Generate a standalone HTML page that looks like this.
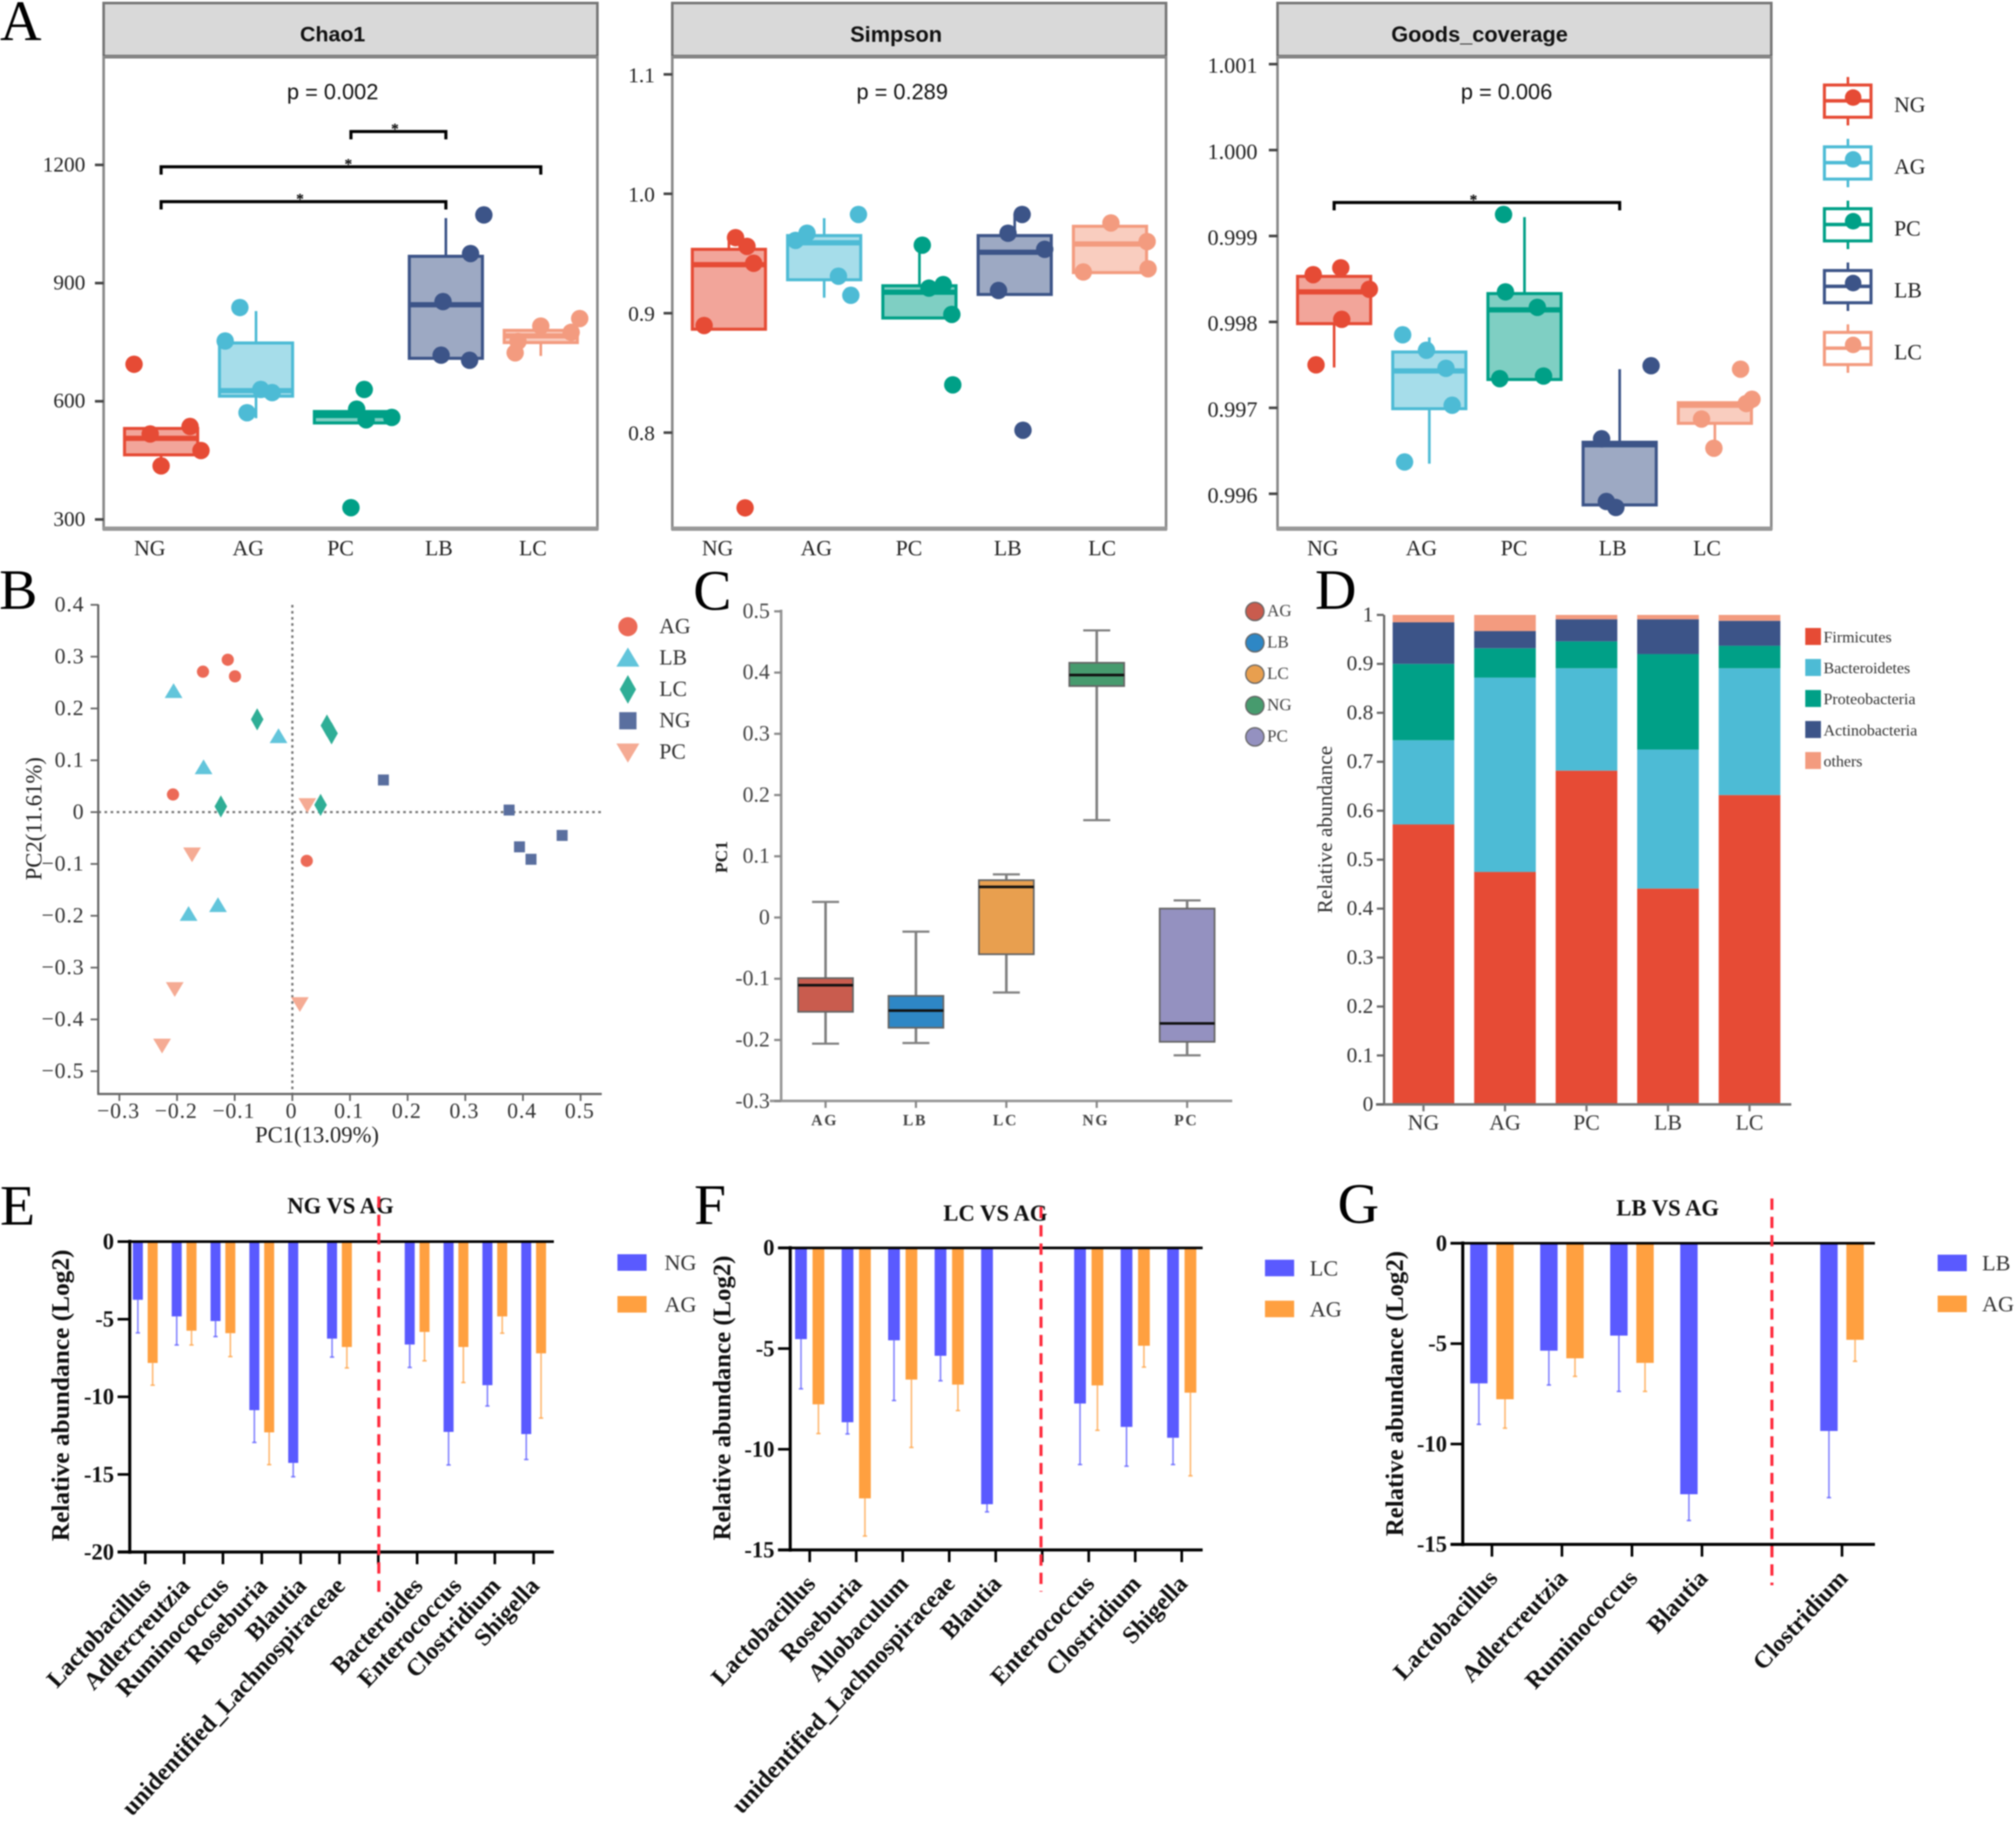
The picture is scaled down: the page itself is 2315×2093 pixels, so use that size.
<!DOCTYPE html>
<html lang="en">
<head>
<meta charset="utf-8">
<title>Microbiome composite figure</title>
<style>
html,body{margin:0;padding:0;background:#fff;}
#figure{display:block;width:2315px;height:2093px;filter:blur(0.7px);}
text{font-family:"Liberation Serif","DejaVu Serif",serif;}
</style>
</head>
<body>
<svg id="figure" xmlns="http://www.w3.org/2000/svg" width="2315" height="2093" viewBox="0 0 2315 2093"></svg>
<script>
/* ---------- shared categories ---------- */
const groupsA = ['NG','AG','PC','LB','LC'];
const coloursA = ['#E64B35','#4DBBD5','#00A087','#3C5488','#F39B7F'];

/* ---------- panel A : Chao1 ---------- */
const chaoTicks = ['300','600','900','1200'];
const chaoQ3 = [531,748,574,968,780];
const chaoMedian = [506,627,564,845,766];
const chaoQ1 = [464,613,545,709,749];
const chaoHigh = [531,829,574,1065,780];
const chaoLow = [436,557,545,709,715];
const chaoValues = [[694,517,536,475,436],[838,753,630,622,571],[630,580,553,559,330],[1073,975,853,717,704],[810,791,775,723,752]];
const chaoJitter = [[-.285,-.115,.305,.42,0],[-.17,-.325,.05,.17,-.095],[.14,.06,.16,.43,0],[.4,.26,-.03,-.05,.25],[.41,0,.32,-.27,-.24]];

/* ---------- panel A : Simpson ---------- */
const simpsonTicks = ['0.8','0.9','1.0','1.1'];
const simpsonQ3 = [.9535,.965,.923,.965,.9728];
const simpsonMedian = [.9406,.959,.9176,.951,.958];
const simpsonQ1 = [.8866,.928,.896,.9157,.934];
const simpsonHigh = [.9627,.9796,.957,.983,.9728];
const simpsonLow = [.8866,.913,.896,.9157,.9335];
const simpsonValues = [[.9633,.956,.9418,.8897,.737],[.967,.961,.9827,.931,.915],[.957,.921,.924,.899,.84],[.9827,.9535,.802,.967,.919],[.9756,.96,.9372,.9345]];
const simpsonJitter = [[.07,.19,.26,-.26,.17],[-.18,-.3,.36,.15,.28],[.03,.1,.25,.34,.35],[.078,.315,.087,-.07,-.17],[.01,.39,.4,-.28]];

/* ---------- panel A : Goods coverage ---------- */
const goodsTicks = ['0.996','0.997','0.998','0.999','1.000','1.001'];
const goodsQ3 = [.99853,.99765,.99833,.9966,.99706];
const goodsMedian = [.99835,.99743,.99814,.99657,.99703];
const goodsQ1 = [.99798,.99699,.99733,.99587,.99682];
const goodsHigh = [.99853,.99782,.99922,.99745,.99706];
const goodsLow = [.99747,.99635,.99733,.99587,.99656];
const goodsValues = [[.99855,.99863,.99838,.99803,.9975],[.99785,.99767,.99746,.99703,.99637],[.99925,.99835,.99817,.99734,.99737],[.99749,.99664,.99591,.99584],[.99745,.9971,.99705,.99687,.99653]];
const goodsJitter = [[-.22,.07,.37,.08,-.19],[-.28,-.03,.175,.24,-.26],[-.22,-.2,.135,-.26,.2],[.33,-.19,-.14,-.04],[.27,.39,.33,-.14,-.01]];

/* ---------- panel B : PCoA ---------- */
const pcoaXTicks = ['-0.3','-0.2','-0.1','0','0.1','0.2','0.3','0.4','0.5'];
const pcoaYTicks = ['-0.5','-0.4','-0.3','-0.2','-0.1','0','0.1','0.2','0.3','0.4'];
const pcoaGroups = ['AG','LB','LC','NG','PC'];
const pcoaPC1 = [[-.112,-.155,-.0995,-.207,.025],[-.206,-.024,-.154,-.129,-.18],[-.061,.06,.068,.049,-.124],[.158,.376,.468,.394,.414],[.026,-.174,-.204,.013,-.226]];
const pcoaPC2 = [[.294,.271,.262,.034,-.094],[.233,.146,.086,-.18,-.197],[.179,.167,.152,.014,.011],[.062,.004,-.045,-.067,-.091],[.014,-.081,-.341,-.37,-.45]];

/* ---------- panel C : PC1 boxplot ---------- */
const pc1Ticks = ['-0.3','-0.2','-0.1','0','0.1','0.2','0.3','0.4','0.5'];
const pc1Groups = ['AG','LB','LC','NG','PC'];
const pc1Q3 = [-.099,-.128,.061,.416,.0146];
const pc1Median = [-.1105,-.152,.05,.396,-.173];
const pc1Q1 = [-.154,-.18,-.06,.378,-.203];
const pc1High = [.0254,-.023,.0705,.469,.028];
const pc1Low = [-.206,-.205,-.1225,.159,-.225];

/* ---------- panel D : stacked bars ---------- */
const phylaNames = ['Firmicutes','Bacteroidetes','Proteobacteria','Actinobacteria','others'];
const abundanceTicks = ['0','0.1','0.2','0.3','0.4','0.5','0.6','0.7','0.8','0.9','1'];
const firmicutes = [.572,.475,.682,.441,.632];
const bacteroidetes = [.172,.397,.209,.284,.259];
const proteobacteria = [.156,.060,.055,.195,.046];
const actinobacteria = [.085,.035,.045,.071,.051];
const others = [.015,.033,.009,.009,.012];

/* ---------- panel E ---------- */
const eTaxa = ['Lactobacillus','Adlercreutzia','Ruminococcus','Roseburia','Blautia','unidentified_Lachnospiraceae','','Bacteroides','Enterococcus','Clostridium','Shigella'];
const eTicks = ['0','-5','-10','-15','-20'];
const eNG = [-3.75,-4.82,-5.12,-10.86,-14.26,-6.25,null,-6.63,-12.26,-9.25,-12.4];
const eNGerr = [-5.88,-6.66,-6.12,-12.94,-15.15,-7.44,null,-8.11,-14.39,-10.59,-14.04];
const eAG = [-7.82,-5.74,-5.9,-12.29,null,-6.79,null,-5.82,-6.79,-4.82,-7.2];
const eAGerr = [-9.25,-6.66,-7.41,-14.37,null,-8.14,null,-7.68,-9.08,-5.9,-11.37];

/* ---------- panel F ---------- */
const fTaxa = ['Lactobacillus','Roseburia','Allobaculum','unidentified_Lachnospiraceae','Blautia','','Enterococcus','Clostridium','Shigella'];
const fTicks = ['0','-5','-10','-15'];
const fLC = [-4.53,-8.66,-4.59,-5.36,-12.73,null,-7.73,-8.89,-9.43];
const fLCerr = [-7.0,-9.24,-7.58,-6.6,-13.11,null,-10.76,-10.84,-10.76];
const fAG = [-7.77,-12.44,-6.54,-6.79,null,null,-6.83,-4.86,-7.19];
const fAGerr = [-9.22,-14.31,-9.91,-8.08,null,null,-9.06,-5.92,-11.32];

/* ---------- panel G ---------- */
const gTaxa = ['Lactobacillus','Adlercreutzia','Ruminococcus','Blautia','','Clostridium'];
const gTicks = ['0','-5','-10','-15'];
const gLB = [-6.98,-5.35,-4.6,-12.5,null,-9.35];
const gLBerr = [-9.02,-7.06,-7.38,-13.81,null,-12.67];
const gAG = [-7.77,-5.73,-5.96,null,null,-4.81];
const gAGerr = [-9.21,-6.63,-7.38,null,null,-5.88];

/* ---------- drawing helpers ---------- */
const svg = document.getElementById('figure');
const NS = 'http://www.w3.org/2000/svg';
function add(tag, attrs, name, parent){
  const el = document.createElementNS(NS, tag);
  for(const k in attrs){ el.setAttribute(k, attrs[k]); }
  
  
  (parent || svg).appendChild(el);
  return el;
}
function label(str, x, y, size, anchor, name, extra){
  const attrs = Object.assign({x:x, y:y, 'font-size':size, 'text-anchor':anchor, 'dominant-baseline':'central', fill:'#222'}, extra || {});
  const el = add('text', attrs, name);
  el.textContent = str;
  return el;
}
function line(x1,y1,x2,y2,stroke,w,name,extra){
  return add('line', Object.assign({x1:x1,y1:y1,x2:x2,y2:y2,stroke:stroke,'stroke-width':w}, extra||{}), name);
}
function rect(x,y,w,h,attrs,name){
  return add('rect', Object.assign({x:x,y:y,width:w,height:h}, attrs), name);
}
function panelLetter(ch,x,y){
  const el = add('text', {x:x,y:y,'font-size':66,fill:'#000'}, 'panel-label-'+ch.toLowerCase());
  el.textContent = ch;
}
['A','B','C','D','E','F','G'].forEach(function(ch,i){
  panelLetter(ch,[0,-1,796,1510,0,797,1536][i],[46,699,700,699,1406,1405,1404][i]);
});

/* ---------- panel A facets ---------- */
function facet(cfg){
  const slug = cfg.title.toLowerCase();
  const yScale = function(v){ return cfg.y0 + (v - cfg.v0) * cfg.k; };
  const xScale = function(i){ return cfg.c0 + i * cfg.sp; };
  rect(cfg.left,3.5,cfg.right-cfg.left,61.5,{fill:'#d9d9d9',stroke:'#777','stroke-width':3},slug+'-strip');
  line(cfg.left-1,65,cfg.right+1,65,'#444',4,slug+'-strip-rule');
  label(cfg.title,cfg.tx,40,cfg.titleSize,'middle',slug+'-strip-title',{'font-weight':'bold',fill:'#111'}).style.fontFamily='"Liberation Sans",sans-serif';
  rect(cfg.left,65,cfg.right-cfg.left,542,{fill:'none',stroke:'#8a8a8a','stroke-width':3},slug+'-panel-border');
  line(cfg.left-1,607,cfg.right+1,607,'#999',5,slug+'-x-axis');
  cfg.ticks.forEach(function(t){
    const y = yScale(parseFloat(t));
    line(cfg.left-10,y,cfg.left,y,'#444',3,slug+'-y-tick');
    label(t,cfg.left-cfg.labelGap,y+cfg.labelDy,cfg.tickSize,'end',slug+'-y-tick-label');
  });
  groupsA.forEach(function(g,i){
    const cx = xScale(i), col = coloursA[i], bw = 84;
    label(g,cx+[-13,-9,-12,-8,-9][i],630,25,'middle',slug+'-x-tick-label');
    const top = yScale(cfg.q3[i]), bot = yScale(cfg.q1[i]);
    line(cx,yScale(cfg.high[i]),cx,top,col,3,slug+'-whisker-high-'+g.toLowerCase());
    line(cx,bot,cx,yScale(cfg.low[i]),col,3,slug+'-whisker-low-'+g.toLowerCase());
    rect(cx-bw/2,top,bw,bot-top,{fill:col,'fill-opacity':.5,stroke:col,'stroke-width':3.5},slug+'-box-'+g.toLowerCase());
    line(cx-bw/2,yScale(cfg.med[i]),cx+bw/2,yScale(cfg.med[i]),col,6,slug+'-median-'+g.toLowerCase());
    cfg.vals[i].forEach(function(v,j){
      add('circle',{cx:cx+cfg.jit[i][j]*cfg.sp,cy:yScale(v),r:10,fill:col},slug+'-point-'+g.toLowerCase());
    });
  });
  label(cfg.p,cfg.px,106,25,'middle',slug+'-p-value',{fill:'#111'}).style.fontFamily='"Liberation Sans",sans-serif';
  cfg.brackets.forEach(function(b){
    const x1 = xScale(b[0]), x2 = xScale(b[1]), y = b[2];
    add('path',{d:'M'+x1+' '+(y+9)+'V'+y+'H'+x2+'V'+(y+9),fill:'none',stroke:'#000','stroke-width':3.5},slug+'-significance-bracket');
    label('*',(x1+x2)/2+b[3],y-3,18,'middle',slug+'-significance-star',{fill:'#000','font-weight':'bold'});
  });
}
facet({title:'Chao1',tx:382,titleSize:24.5,tickSize:24.5,labelGap:21,labelDy:0,left:119,right:686,y0:596.4,v0:300,k:-.4523,c0:185,sp:109,ticks:chaoTicks,p:'p = 0.002',px:382,
  q3:chaoQ3,med:chaoMedian,q1:chaoQ1,high:chaoHigh,low:chaoLow,vals:chaoValues,jit:chaoJitter,
  brackets:[[2,3,151,-4],[0,4,191.5,-3],[0,3,231.5,-4]]});
facet({title:'Simpson',tx:1029,titleSize:25,tickSize:24.5,labelGap:20,labelDy:1.5,left:772,right:1339,y0:496.7,v0:.8,k:-1371,c0:837,sp:109.4,ticks:simpsonTicks,p:'p = 0.289',px:1036,
  q3:simpsonQ3,med:simpsonMedian,q1:simpsonQ1,high:simpsonHigh,low:simpsonLow,vals:simpsonValues,jit:simpsonJitter,brackets:[]});
facet({title:'Goods_coverage',tx:1699,titleSize:25,tickSize:25.5,labelGap:23,labelDy:1.5,left:1467,right:2034,y0:566.9,v0:.996,k:-98650,c0:1532,sp:109.3,ticks:goodsTicks,p:'p = 0.006',px:1730,
  q3:goodsQ3,med:goodsMedian,q1:goodsQ1,high:goodsHigh,low:goodsLow,vals:goodsValues,jit:goodsJitter,
  brackets:[[0,3,232.5,-4]]});
groupsA.forEach(function(g,i){
  const dy = i*71, col = coloursA[i], nm = g.toLowerCase();
  line(2122,88.4+dy,2122,144+dy,col,3,'legend-whisker-'+nm);
  rect(2095,97.6+dy,53.5,37,{fill:'#fff',stroke:col,'stroke-width':3.5},'legend-box-'+nm);
  line(2095,115.7+dy,2148.5,115.7+dy,col,4,'legend-median-'+nm);
  add('circle',{cx:2128,cy:112+dy,r:9.5,fill:col},'legend-point-'+nm);
  label(g,2175,121+dy,25,'start','legend-label-'+nm);
});

/* ---------- panel B ---------- */
(function(){
  const x = function(v){ return 335.7 + v*662; };
  const y = function(v){ return 932.4 - v*595; };
  const cols = ['#EC6A57','#62C5DB','#2FAE96','#5A6F9F','#F5AB94'];
  function marker(kind,cx,cy,r,fill,name){
    if(kind===0){ add('circle',{cx:cx,cy:cy,r:r,fill:fill},name); return; }
    let pts;
    if(kind===1){ pts=[[cx,cy-r*1.1],[cx+r*1.2,cy+r*.9],[cx-r*1.2,cy+r*.9]]; }
    if(kind===2){ pts=[[cx,cy-r*1.5],[cx+r*.85,cy],[cx,cy+r*1.5],[cx-r*.85,cy]]; }
    if(kind===3){ pts=[[cx-r*.9,cy-r*.9],[cx+r*.9,cy-r*.9],[cx+r*.9,cy+r*.9],[cx-r*.9,cy+r*.9]]; }
    if(kind===4){ pts=[[cx-r*1.2,cy-r*.9],[cx+r*1.2,cy-r*.9],[cx,cy+r*1.1]]; }
    add('polygon',{points:pts.map(function(p){return p.join(',');}).join(' '),fill:fill},name);
  }
  line(335.7,694.5,335.7,1256,'#777',2.5,'pcoa-vertical-zero-line',{'stroke-dasharray':'3 4'});
  line(113,932.4,690,932.4,'#777',2.5,'pcoa-horizontal-zero-line',{'stroke-dasharray':'3 4'});
  line(112.8,694,112.8,1257,'#666',2.5,'pcoa-y-axis');
  line(112,1256,691,1256,'#666',2.5,'pcoa-x-axis');
  pcoaYTicks.forEach(function(t){
    const v = parseFloat(t);
    line(104,y(v),113,y(v),'#666',2,'pcoa-y-tick');
    label(t.replace('-','\u2212'),97,y(v),25,'end','pcoa-y-tick-label',{fill:'#333','letter-spacing':1});
  });
  pcoaXTicks.forEach(function(t){
    const v = parseFloat(t);
    line(x(v),1256,x(v),1264,'#666',2,'pcoa-x-tick');
    label(t.replace('-','\u2212'),x(v)-1,1276,25,'middle','pcoa-x-tick-label',{fill:'#333','letter-spacing':1});
  });
  label('PC1(13.09%)',364,1303,26,'middle','pcoa-x-axis-title',{fill:'#222'});
  const yt = label('PC2(11.61%)',39,940,26,'middle','pcoa-y-axis-title',{fill:'#222'});
  yt.setAttribute('transform','rotate(-90 39 940)');
  pcoaGroups.forEach(function(g,i){
    pcoaPC1[i].forEach(function(v,j){
      marker(i,x(v),y(pcoaPC2[i][j]),i===3?7:(i===0?7:8.5),cols[i],'pcoa-point-'+g.toLowerCase());
    });
    const ly = 719.5 + i*36;
    marker(i,721,ly,11,cols[i],'pcoa-legend-marker-'+g.toLowerCase());
    label(g,757,ly,25,'start','pcoa-legend-label-'+g.toLowerCase(),{fill:'#333'});
  });
})();

/* ---------- panel C ---------- */
(function(){
  const y = function(v){ return 1053.4 - v*703; };
  const x = function(i){ return 948 + i*103.8; };
  const cols = ['#C95C4E','#2E87C5','#E89F4F','#479B6E','#9491C0'];
  line(897,700,897,1265,'#999',3,'pc1-y-axis');
  line(884,1264,1415,1264,'#999',3,'pc1-x-axis');
  pc1Ticks.forEach(function(t){
    const v = parseFloat(t);
    line(889,y(v),897,y(v),'#888',2.5,'pc1-y-tick');
    label(t,884,y(v),25,'end','pc1-y-tick-label',{fill:'#444'});
  });
  pc1Groups.forEach(function(g,i){
    const cx = x(i), bw = 63, nm = g.toLowerCase();
    line(cx,1264,cx,1272,'#888',2.5,'pc1-x-tick');
    label(g,cx-1,1286,18,'middle','pc1-x-tick-label',{fill:'#444','font-weight':'bold','letter-spacing':2});
    line(cx,y(pc1High[i]),cx,y(pc1Low[i]),'#808080',3,'pc1-whisker-'+nm);
    line(cx-15.5,y(pc1High[i]),cx+15.5,y(pc1High[i]),'#808080',2.5,'pc1-cap-high-'+nm);
    line(cx-15.5,y(pc1Low[i]),cx+15.5,y(pc1Low[i]),'#808080',2.5,'pc1-cap-low-'+nm);
    rect(cx-bw/2,y(pc1Q3[i]),bw,y(pc1Q1[i])-y(pc1Q3[i]),{fill:cols[i],stroke:'#666','stroke-width':2},'pc1-box-'+nm);
    line(cx-bw/2,y(pc1Median[i]),cx+bw/2,y(pc1Median[i]),'#111',3,'pc1-median-'+nm);
    const ly = 702 + i*36;
    add('circle',{cx:1441,cy:ly,r:10.5,fill:cols[i],stroke:'#666','stroke-width':1.5},'pc1-legend-marker-'+nm);
    label(g,1455,ly,19.5,'start','pc1-legend-label-'+nm,{fill:'#444'});
  });
  const t = label('PC1',829,984,20,'middle','pc1-y-axis-title',{fill:'#222','font-weight':'bold'});
  t.setAttribute('transform','rotate(-90 829 984)');
})();

/* ---------- panel D ---------- */
(function(){
  const y = function(v){ return 1268 - v*562; };
  const x = function(i){ return 1634.6 + i*93.6; };
  const layers = [firmicutes,bacteroidetes,proteobacteria,actinobacteria,others];
  const cols = ['#E64B35','#4DBBD5','#00A087','#3C5488','#F39B7F'];
  groupsA.forEach(function(g,i){
    let base = 0;
    layers.forEach(function(arr,k){
      const top = base + arr[i];
      rect(x(i)-35.4,y(top),70.8,y(base)-y(top),{fill:cols[k]},'abundance-bar-'+g.toLowerCase()+'-'+phylaNames[k].toLowerCase());
      base = top;
    });
    line(x(i),1268,x(i),1276,'#777',2.5,'abundance-x-tick');
    label(g,x(i),1289.5,25,'middle','abundance-x-tick-label',{fill:'#333'});
  });
  line(1589.4,706,1589.4,1269,'#666',2.5,'abundance-y-axis');
  line(1580,1268,2057,1268,'#777',3,'abundance-x-axis');
  abundanceTicks.forEach(function(t){
    const v = parseFloat(t);
    line(1581,y(v),1589,y(v),'#666',2.5,'abundance-y-tick');
    label(t,1577,y(v),24.5,'end','abundance-y-tick-label',{fill:'#333'});
  });
  const yt = label('Relative abundance',1522,952.5,24.5,'middle','abundance-y-axis-title',{fill:'#333'});
  yt.setAttribute('transform','rotate(-90 1522 952.5)');
  phylaNames.forEach(function(p,k){
    const ly = 721 + k*35.6;
    rect(2073,ly,18,19.5,{fill:cols[k]},'abundance-legend-swatch-'+p.toLowerCase());
    label(p,2094,ly+10.5,18.3,'start','abundance-legend-label-'+p.toLowerCase(),{fill:'#333'});
  });
})();

/* ---------- panels E, F, G ---------- */
function barPanel(c){
  const y = function(v){ return c.y0 - v*c.k; };
  const x = function(i){ return c.x0 + i*c.sp; };
  const blue = '#5A5AFF', orange = '#FFA040';
  const yBottom = y(parseFloat(c.ticks[c.ticks.length-1]));
  function bars(vals,errs,off,col,name){
    vals.forEach(function(v,i){
      if(v===null){ return; }
      const cx = x(i)+off;
      line(cx,y(v),cx,y(errs[i]),col,1.8,c.id+'-error-'+name,{'stroke-opacity':.75});
      line(cx-2.5,y(errs[i]),cx+2.5,y(errs[i]),col,1.8,c.id+'-error-cap-'+name,{'stroke-opacity':.75});
      rect(cx-c.bw/2,y(0),c.bw,y(v)-y(0),{fill:col},c.id+'-bar-'+name);
    });
  }
  bars(c.a,c.aErr,-c.off,blue,c.aName.toLowerCase());
  bars(c.b,c.bErr,c.off,orange,'ag');
  line(c.axisX,y(0)-2,c.axisX,yBottom+2,'#000',3.5,c.id+'-y-axis');
  line(c.axisX-14,y(0),c.right,y(0),'#000',3,c.id+'-zero-line');
  line(c.axisX-14,yBottom,c.right,yBottom,'#000',3.5,c.id+'-x-axis');
  c.ticks.forEach(function(t){
    const v = parseFloat(t);
    line(c.axisX-14,y(v),c.axisX,y(v),'#000',3,c.id+'-y-tick');
    label(t,c.axisX-18,y(v),26,'end',c.id+'-y-tick-label',{fill:'#111','font-weight':'bold'});
  });
  c.taxa.forEach(function(t,i){
    line(x(i),yBottom,x(i),yBottom+14,'#000',3,c.id+'-x-tick');
    if(!t){ return; }
    const ax = x(i)+8, ay = yBottom+40;
    const el = add('text',{x:ax,y:ay,'font-size':28,'font-weight':'bold','text-anchor':'end',fill:'#111',transform:'rotate(-47 '+ax+' '+ay+')'},c.id+'-x-tick-label');
    el.textContent = t;
  });
  label(c.title,c.tx,c.ty,26,'middle',c.id+'-title',{fill:'#111','font-weight':'bold'});
  const yt = label('Relative abundance (Log2)',c.ytX,c.ytY,28,'middle',c.id+'-y-axis-title',{fill:'#111','font-weight':'bold',textLength:c.ytL,lengthAdjust:'spacingAndGlyphs'});
  yt.setAttribute('transform','rotate(-90 '+c.ytX+' '+c.ytY+')');
  line(c.redX,c.redY1,c.redX,c.redY2,'#FF2A3C',3.5,c.id+'-separator-line',{'stroke-dasharray':'13 8'});
  rect(c.lgX,c.lgY[0]-9.5,33.5,19,{fill:blue},c.id+'-legend-swatch-'+c.aName.toLowerCase());
  rect(c.lgX,c.lgY[1]-9.5,33.5,19,{fill:orange},c.id+'-legend-swatch-ag');
  label(c.aName,c.lgT,c.lgY[0],25.5,'start',c.id+'-legend-label-'+c.aName.toLowerCase(),{fill:'#333'});
  label('AG',c.lgT,c.lgY[1],25.5,'start',c.id+'-legend-label-ag',{fill:'#333'});
}
barPanel({id:'ng-vs-ag',title:'NG VS AG',tx:391,ty:1384.7,aName:'NG',taxa:eTaxa,ticks:eTicks,a:eNG,aErr:eNGerr,b:eAG,bErr:eAGerr,
  y0:1425.5,k:17.82,x0:166.8,sp:44.6,off:8.5,bw:11.5,axisX:149,right:636,
  ytX:70.6,ytY:1602,ytL:335,redX:435,redY1:1373.6,redY2:1829,lgX:709,lgY:[1449.5,1497.5],lgT:763});
barPanel({id:'lc-vs-ag',title:'LC VS AG',tx:1143,ty:1392.8,aName:'LC',taxa:fTaxa,ticks:fTicks,a:fLC,aErr:fLCerr,b:fAG,bErr:fAGerr,
  y0:1432.7,k:23.12,x0:929.8,sp:53.4,off:10,bw:13.5,axisX:907.4,right:1381,
  ytX:829.8,ytY:1605,ytL:327,redX:1195.4,redY1:1385.6,redY2:1827.5,lgX:1452.6,lgY:[1455.8,1502.8],lgT:1504});
barPanel({id:'lb-vs-ag',title:'LB VS AG',tx:1915,ty:1387,aName:'LB',taxa:gTaxa,ticks:gTicks,a:gLB,aErr:gLBerr,b:gAG,bErr:gAGerr,
  y0:1427.4,k:23.05,x0:1713.2,sp:80.4,off:15,bw:20,axisX:1679.7,right:2153,
  ytX:1602.7,ytY:1600,ytL:327.5,redX:2034.7,redY1:1376,redY2:1820,lgX:2225,lgY:[1450,1497],lgT:2276});
</script>
</body>
</html>
